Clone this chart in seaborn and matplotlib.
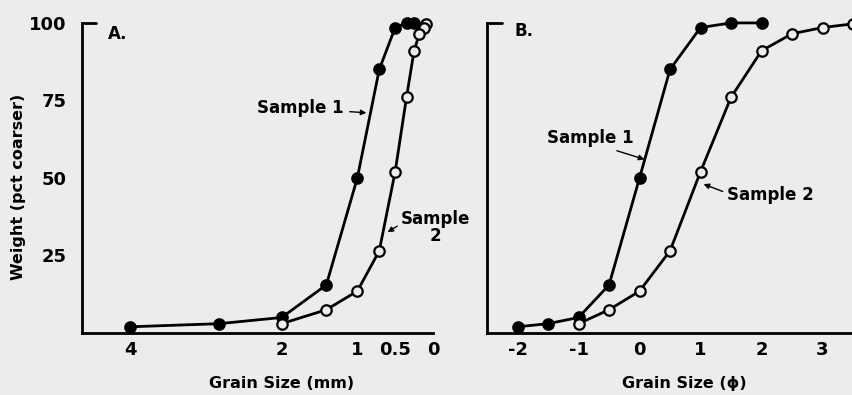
import numpy as np
import pandas as pd
import seaborn as sns
import matplotlib.pyplot as plt

# grain size in phi units, sieve classes
phi_s1 = [-2, -1.5, -1, -0.5, 0, 0.5, 1, 1.5, 2]
wt_s1 = [2, 3, 5, 15.5, 50, 85, 98.5, 100, 100]

phi_s2 = [-1, -0.5, 0, 0.5, 1, 1.5, 2, 2.5, 3, 3.5]
wt_s2 = [3, 7.5, 13.5, 26.5, 52, 76, 91, 96.5, 98.5, 99.7]

# same sieves expressed in mm (d = 2^-phi)
mm_s1 = [4, 2.83, 2, 1.41, 1, 0.71, 0.5, 0.35, 0.25]
mm_s2 = [2, 1.41, 1, 0.71, 0.5, 0.35, 0.25, 0.18, 0.125, 0.09]

mm_ticks = [4, 2, 1, 0.5, 0.25, 0]
mm_labels = ["4", "2", "1", "0.5", "", "0"]
phi_ticks = [-2, -1, 0, 1, 2, 3]
phi_labels = ["-2", "-1", "0", "1", "2", "3"]
wt_ticks = [25, 50, 75, 100]

bg = "#ececec"
sns.set_style("white")
plt.rcParams["font.family"] = ["DejaVu Sans"]
plt.rcParams["font.size"] = 12
plt.rcParams["font.weight"] = "bold"
plt.rcParams["axes.labelweight"] = "bold"
plt.rcParams["text.color"] = "black"
plt.rcParams["axes.labelcolor"] = "black"
plt.rcParams["xtick.color"] = "black"
plt.rcParams["ytick.color"] = "black"

fig = plt.figure(figsize=(8.53, 3.95), dpi=100)
fig.patch.set_facecolor(bg)
axA = fig.add_axes([0.0961, 0.157, 0.4115, 0.785])
axB = fig.add_axes([0.571, 0.157, 0.429, 0.785])

line_kw = dict(color="black", linewidth=2.0, markersize=7.5,
               markeredgecolor="black", markeredgewidth=1.6, clip_on=False)
arrow_kw = dict(arrowstyle="-|>", color="black", lw=1.0, mutation_scale=8)

for ax in (axA, axB):
    ax.set_facecolor(bg)
    for s in ("top", "right"):
        ax.spines[s].set_visible(False)
    for s in ("left", "bottom"):
        ax.spines[s].set_linewidth(2.0)
        ax.spines[s].set_color("black")
    ax.set_ylim(0, 100)
    ax.set_yticks(wt_ticks)
    # little inward bar at the top of the weight axis
    ax.axhline(100, xmin=0, xmax=0.04, color="black", linewidth=2.0, clip_on=False)

# panel A: mm scale
sns.lineplot(x=mm_s1, y=wt_s1, ax=axA, marker="o", markerfacecolor="black", **line_kw)
sns.lineplot(x=mm_s2, y=wt_s2, ax=axA, marker="o", markerfacecolor=bg, **line_kw)
axA.set_xlim(4.64, 0)
axA.set_xticks(mm_ticks)
axA.set_xticklabels(mm_labels)
axA.set_yticklabels(["25", "50", "75", "100"])
axA.tick_params(axis="x", direction="in", length=8, width=1.8, pad=6, labelsize=13)
axA.tick_params(axis="y", direction="out", length=8, width=1.8, pad=3, labelsize=13)
for t in axA.xaxis.get_major_ticks()[:2]:
    t.tick1line.set_visible(False)
axA.set_xlabel("Grain Size (mm)", fontsize=11.5)
axA.xaxis.set_label_coords(0.57, -0.14)
axA.set_ylabel("Weight (pct coarser)", fontsize=11.5)
axA.yaxis.set_label_coords(-0.16, 0.47)
axA.text(4.3, 96.5, "A.", fontsize=12, va="center", ha="left")
axA.annotate("Sample 1", xy=(0.88, 71), xytext=(1.18, 72.5), fontsize=12,
             ha="right", va="center",
             arrowprops=dict(shrinkA=2, shrinkB=0, **arrow_kw))
axA.annotate("Sample\n2", xy=(0.6, 32.5), xytext=(-0.03, 34), fontsize=12,
             ha="center", va="center", linespacing=0.95,
             annotation_clip=False,
             arrowprops=dict(shrinkA=0, shrinkB=0, relpos=(0.0, 0.6), **arrow_kw))

# panel B: phi scale
sns.lineplot(x=phi_s1, y=wt_s1, ax=axB, marker="o", markerfacecolor="black", **line_kw)
sns.lineplot(x=phi_s2, y=wt_s2, ax=axB, marker="o", markerfacecolor=bg, **line_kw)
axB.set_xlim(-2.5, 3.5)
axB.set_xticks(phi_ticks)
axB.set_xticklabels(phi_labels)
axB.set_yticklabels([])
axB.tick_params(axis="x", direction="in", length=8, width=1.8, pad=6, labelsize=13)
axB.tick_params(axis="y", direction="in", length=12, width=1.8)
axB.set_xlabel("Grain Size (\u03d5)", fontsize=11.5)
axB.xaxis.set_label_coords(0.54, -0.14)
axB.set_ylabel("")
axB.text(-2.05, 97.5, "B.", fontsize=12, va="center", ha="left")
axB.annotate("Sample 1", xy=(0.08, 56), xytext=(-0.8, 63), fontsize=12,
             ha="center", va="center",
             arrowprops=dict(shrinkA=2, shrinkB=0, relpos=(0.65, 0.0), **arrow_kw))
axB.annotate("Sample 2", xy=(1.05, 48), xytext=(2.15, 44.5), fontsize=12,
             ha="center", va="center",
             arrowprops=dict(shrinkA=1, shrinkB=0, relpos=(0.0, 0.6), **arrow_kw))

fig.savefig("out.png", dpi=100, facecolor=bg)
